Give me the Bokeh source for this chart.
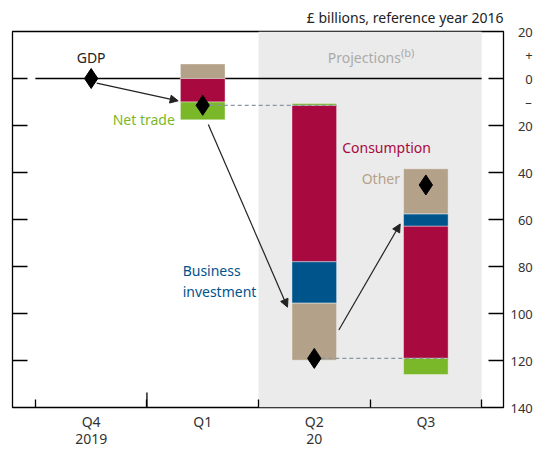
from bokeh.plotting import figure
from bokeh.models import (Range1d, FixedTicker, LinearAxis, BoxAnnotation, Label,
                          Arrow, NormalHead, ColumnDataSource)
from bokeh.embed import file_html
from bokeh.resources import INLINE

# ---------------- data ----------------
quarters = ["Q4", "Q1", "Q2", "Q3"]
years = ["2019", "", "20", ""]
gdp = [0.0, -11.4, -119.1, -45.3]
consumption = [0.0, -10.0, -66.6, 56.3]
business_investment = [0.0, 0.0, -17.6, 5.2]
other = [0.0, 6.2, -24.3, 19.2]
net_trade = [0.0, -7.6, 0.8, -6.9]
y_ticks = [20, 10, 0, -10, -20, -40, -60, -80, -100, -120, -140]
y_tick_labels = ["20", "+", "0", "\u2013", "20", "40", "60", "80", "100", "120", "140"]
first_projection = 2

# ---------------- styles ----------------
FONT = "Noto Sans"
C_CONS = "#A8093E"
C_BI = "#00548C"
C_OTH = "#B4A189"
C_NT = "#7AB829"
C_SHADE = "#EBEBEB"
FS = "14px"

X0, X1 = -0.705, 3.696
Y0, Y1 = -140, 20
FRAME_W, FRAME_H = 492, 379
ppx = FRAME_W / (X1 - X0)
ppy = FRAME_H / (Y1 - Y0)

p = figure(width=535, height=450, x_range=Range1d(X0, X1), y_range=Range1d(Y0, Y1),
           output_backend="svg", toolbar_location=None,
           x_axis_location=None, y_axis_location=None,
           min_border_left=12, min_border_right=31, min_border_top=31, min_border_bottom=40)
p.xgrid.visible = False
p.ygrid.visible = False
p.outline_line_color = "black"
p.outline_line_width = 1.3
p.background_fill_color = "white"

p.title.text = "\u00a3 billions, reference year 2016"
p.title.align = "right"
p.title.text_font = FONT
p.title.text_font_size = FS
p.title.text_font_style = "normal"
p.title.text_color = "#222222"
p.title.standoff = 10

# shaded projection area
p.add_layout(BoxAnnotation(left=first_projection - 0.5, right=len(quarters) - 0.5,
                           fill_color=C_SHADE, fill_alpha=1, line_color=None, level="underlay"))

# bottom axis
ax_b = LinearAxis(ticker=FixedTicker(ticks=list(range(len(quarters))),
                                     minor_ticks=[i - 0.5 for i in range(len(quarters) + 1)]))
ax_b.major_label_overrides = {i: (q + ("\n" + y if y else "")) for i, (q, y) in enumerate(zip(quarters, years))}
ax_b.major_tick_in = 0
ax_b.major_tick_out = 0
ax_b.minor_tick_in = 8
ax_b.minor_tick_out = 0
ax_b.minor_tick_line_width = 1.3
ax_b.axis_line_color = None
ax_b.major_label_standoff = 4
ax_b.major_label_text_font = FONT
ax_b.major_label_text_font_size = FS
ax_b.major_label_text_line_height = 0.9
ax_b.major_label_text_color = "#333333"
p.add_layout(ax_b, "below")

tick_marks = [0, -20, -40, -60, -80, -100, -120]

# left axis: marks only
ax_l = LinearAxis(ticker=FixedTicker(ticks=[], minor_ticks=tick_marks))
ax_l.minor_tick_in = 15
ax_l.minor_tick_out = 0
ax_l.minor_tick_line_width = 1.3
ax_l.major_tick_in = 0
ax_l.major_tick_out = 0
ax_l.axis_line_color = None
ax_l.major_label_standoff = 0
ax_l.major_label_text_font_size = "0px"
p.add_layout(ax_l, "left")

# right axis: labels (padded with figure spaces to right-align) and marks
width_chars = max(len(t) for t in y_tick_labels)
ax_r = LinearAxis(ticker=FixedTicker(ticks=y_ticks, minor_ticks=tick_marks))
ax_r.major_label_overrides = {v: "\u2007" * (width_chars - len(t)) + t for v, t in zip(y_ticks, y_tick_labels)}
ax_r.minor_tick_in = 15
ax_r.minor_tick_out = 0
ax_r.minor_tick_line_width = 1.3
ax_r.major_tick_in = 0
ax_r.major_tick_out = 0
ax_r.axis_line_color = None
ax_r.major_label_standoff = 7
ax_r.major_label_text_font = FONT
ax_r.major_label_text_font_size = "13px"
ax_r.major_label_text_color = "#333333"
p.add_layout(ax_r, "right")

# tall tick at year boundary
p.segment(x0=[0.5], y0=[Y0], x1=[0.5], y1=[Y0 + 15 / ppy], line_color="black", line_width=1.3)

# zero line
p.segment(x0=[-0.5], y0=[0], x1=[len(quarters) - 0.5], y1=[0], line_color="black", line_width=1.3)

# waterfall bars
comps = [(consumption, C_CONS), (business_investment, C_BI), (other, C_OTH), (net_trade, C_NT)]
bx, btop, bbot, bcol = [], [], [], []
for i in range(1, len(quarters)):
    pos = neg = gdp[i - 1]
    for vals, col in comps:
        v = vals[i]
        if v == 0:
            continue
        if v > 0:
            b, t = pos, pos + v
            pos = t
        else:
            t, b = neg, neg + v
            neg = b
        bx.append(i); btop.append(t); bbot.append(b); bcol.append(col)
src = ColumnDataSource(dict(x=bx, top=btop, bottom=bbot, color=bcol))
p.vbar(x="x", top="top", bottom="bottom", width=0.4, fill_color="color",
       line_color="white", line_alpha=0.5, line_width=0.8, source=src)

# dashed connectors
idx = list(range(2, len(quarters)))
p.segment(x0=[i - 1 for i in idx], y0=[gdp[i - 1] for i in idx],
          x1=[i + 0.2 for i in idx], y1=[gdp[i - 1] for i in idx],
          line_color="#8797A5", line_width=1.3, line_dash="4 3")

# GDP diamonds
p.scatter(x=list(range(len(quarters))), y=gdp, marker="diamond", size=20,
          fill_color="black", line_color="black")

# arrows
arrows = [((0.05, gdp[0] - 2.0), (0.78, -9.5)),
          ((1.05, -19.6), (1.76, -97.3)),
          ((2.22, -107.0), (2.77, -61.9))]
for (xs, ys), (xe, ye) in arrows:
    p.add_layout(Arrow(end=NormalHead(size=8, fill_color="#222222", line_color="#222222"),
                       x_start=xs, y_start=ys, x_end=xe, y_end=ye,
                       line_color="#222222", line_width=1.2))

def lab(x, y, text, color, align="left", size=FS):
    p.add_layout(Label(x=x, y=y, text=text, text_align=align, text_baseline="middle",
                       text_font=FONT, text_font_size=size, text_color=color))

lab(0.0, 9.0, "GDP", "#222222", align="center")
lab(0.75, -17.6, "Net trade", C_NT, align="right")
lab(2.25, -29.4, "Consumption", C_CONS)
lab(2.768, -42.4, "Other", C_OTH, align="right")
lab(0.82, -81.7, "Business", C_BI)
lab(0.82, -90.6, "investment", C_BI)
lab(2.777, 9.0, "Projections", "#AAAAAA", align="right")
lab(2.777, 11.0, "(b)", "#AAAAAA", size="11px")

open("out.html", "w").write(file_html(p, INLINE))
